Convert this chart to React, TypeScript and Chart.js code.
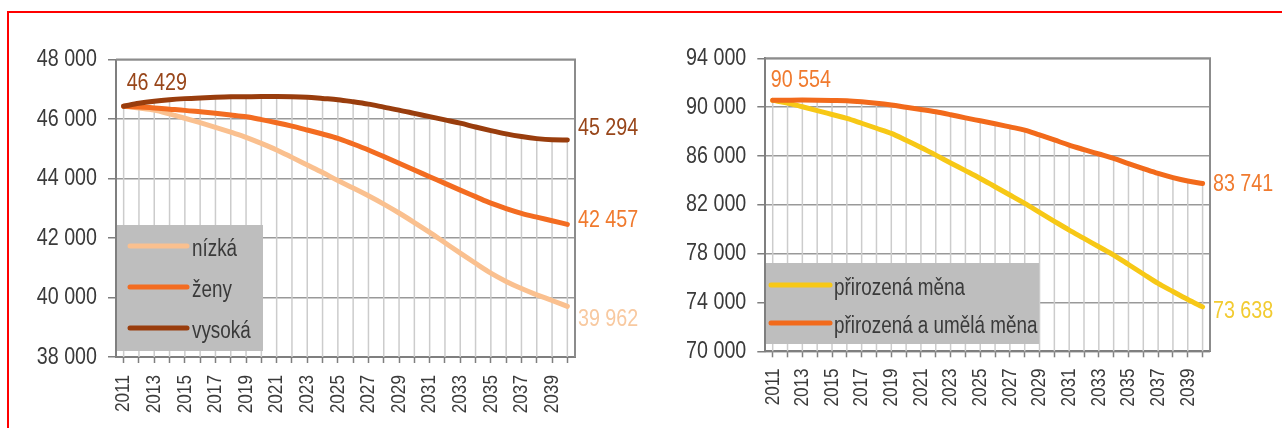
import React, { useEffect, useRef } from 'react';
import { Chart, registerables } from 'chart.js';

Chart.register(...registerables);

// ---------- data ----------
const years = [
  '2011', '2012', '2013', '2014', '2015', '2016', '2017', '2018', '2019', '2020',
  '2021', '2022', '2023', '2024', '2025', '2026', '2027', '2028', '2029', '2030',
  '2031', '2032', '2033', '2034', '2035', '2036', '2037', '2038', '2039', '2040',
];

// left chart
const lowVariant = [
  46429, 46370, 46300, 46170, 46025, 45875, 45720, 45555, 45385, 45180,
  44960, 44710, 44455, 44200, 43930, 43680, 43420, 43140, 42840, 42520,
  42190, 41840, 41490, 41150, 40820, 40540, 40300, 40090, 39900, 39700,
];
const midVariant = [
  46429, 46400, 46370, 46330, 46290, 46240, 46190, 46135, 46075, 45980,
  45875, 45760, 45630, 45495, 45350, 45160, 44960, 44740, 44510, 44285,
  44060, 43835, 43610, 43390, 43170, 42990, 42830, 42700, 42580, 42457,
];
const highVariant = [
  46429, 46530, 46600, 46650, 46685, 46710, 46730, 46745, 46750, 46755,
  46755, 46750, 46730, 46690, 46650, 46580, 46500, 46400, 46300, 46190,
  46080, 45970, 45860, 45730, 45610, 45500, 45410, 45340, 45300, 45294,
];
const leftNames = ['nízká', 'ženy', 'vysoká'];
const leftStartLabel = '46 429';
const leftEndLabels = ['39 962', '42 457', '45 294'];
const leftMin = 38000;
const leftMax = 48000;
const leftStep = 2000;

// right chart
const naturalChange = [
  90554, 90330, 90030, 89720, 89400, 89080, 88680, 88270, 87850, 87280,
  86690, 86070, 85430, 84800, 84160, 83480, 82800, 82110, 81380, 80650,
  79930, 79250, 78560, 77880, 77110, 76330, 75560, 74900, 74250, 73638,
];
const totalChange = [
  90554, 90570, 90580, 90570, 90550, 90525, 90440, 90320, 90170, 89990,
  89810, 89620, 89380, 89120, 88880, 88640, 88380, 88120, 87720, 87310,
  86890, 86520, 86160, 85800, 85380, 84970, 84570, 84230, 83950, 83741,
];
const rightNames = ['přirozená měna', 'přirozená a umělá měna'];
const rightStartLabel = '90 554';
const rightEndLabels = ['73 638', '83 741'];
const rightMin = 70000;
const rightMax = 94000;
const rightStep = 4000;

// ---------- helpers ----------
const FAMILY = '"Liberation Sans", Arial, sans-serif';
const NARROW = 0.82; // horizontal squeeze to imitate Arial Narrow

const fmt = (v: number) => String(v).replace(/\B(?=(\d{3})+(?!\d))/g, ' ');

function narrowText(
  ctx: CanvasRenderingContext2D,
  text: string,
  x: number,
  y: number,
  size: number,
  color: string,
  align: CanvasTextAlign,
  rotate = 0,
) {
  ctx.save();
  ctx.translate(x, y);
  if (rotate) ctx.rotate(rotate);
  ctx.scale(NARROW, 1);
  ctx.font = `${size}px ${FAMILY}`;
  ctx.fillStyle = color;
  ctx.textAlign = align;
  ctx.textBaseline = 'middle';
  ctx.fillText(text, 0, 0);
  ctx.restore();
}

interface SeriesDef {
  name: string;
  data: number[];
  color: string;
  labelColor: string;
  endLabel: string;
  endDy: number;
  order: number;
}

interface ChartDef {
  series: SeriesDef[];
  min: number;
  max: number;
  step: number;
  padTop: number;
  padRight: number;
  yWidth: number;
  xHeight: number;
  xLabelGap: number;
  startLabel: string;
  startColor: string;
  startDx: number;
  startDy: number;
  legendBox: { x: number; y: number; w: number; h: number };
  legendLineX: [number, number];
  legendTextX: number;
  legendRows: number[];
  legendOrder: number[];
}

function buildChart(canvas: HTMLCanvasElement, def: ChartDef) {
  const dropLines = {
    id: 'dropLines',
    beforeDatasetsDraw(chart: any) {
      const { ctx, chartArea } = chart;
      const metas = chart.getSortedVisibleDatasetMetas();
      const n = chart.data.labels.length;
      ctx.save();
      ctx.strokeStyle = '#cccccc';
      ctx.lineWidth = 1.5;
      for (let i = 0; i < n; i++) {
        let top = Infinity;
        let x = 0;
        for (const m of metas) {
          const p = m.data[i];
          if (p && p.y < top) {
            top = p.y;
            x = p.x;
          }
        }
        ctx.beginPath();
        ctx.moveTo(x, top);
        ctx.lineTo(x, chartArea.bottom);
        ctx.stroke();
      }
      ctx.strokeStyle = '#8c8c8c';
      ctx.lineWidth = 2;
      ctx.beginPath();
      ctx.moveTo(chartArea.left, chartArea.top);
      ctx.lineTo(chartArea.right, chartArea.top);
      ctx.lineTo(chartArea.right, chartArea.bottom);
      ctx.stroke();
      ctx.restore();
    },
  };

  const overlay = {
    id: 'overlay',
    afterDatasetsDraw(chart: any) {
      const { ctx, chartArea, scales } = chart;
      ctx.save();
      // axis tick labels
      for (let v = def.min; v <= def.max; v += def.step) {
        narrowText(ctx, fmt(v), chartArea.left - 19, scales.y.getPixelForValue(v), 24, '#3a3a3a', 'right');
      }
      years.forEach((yr, i) => {
        if (i % 2 !== 0) return;
        narrowText(ctx, yr, scales.x.getPixelForValue(i), chartArea.bottom + def.xLabelGap, 21, '#3a3a3a', 'right', -Math.PI / 2);
      });
      // legend box
      const b = def.legendBox;
      ctx.fillStyle = '#bebebe';
      ctx.fillRect(b.x, b.y, b.w, b.h);
      def.legendOrder.forEach((si, row) => {
        const s = def.series[si];
        const y = def.legendRows[row];
        ctx.strokeStyle = s.color;
        ctx.lineWidth = 5;
        ctx.lineCap = 'round';
        ctx.beginPath();
        ctx.moveTo(def.legendLineX[0], y);
        ctx.lineTo(def.legendLineX[1], y);
        ctx.stroke();
        narrowText(ctx, s.name, def.legendTextX, y + 4, 23, '#3a3a3a', 'left');
      });
      // data labels
      const first = chart.getDatasetMeta(0).data[0];
      narrowText(ctx, def.startLabel, first.x + def.startDx, first.y + def.startDy, 24, def.startColor, 'left');
      def.series.forEach((s, i) => {
        const m = chart.getDatasetMeta(i);
        const last = m.data[m.data.length - 1];
        narrowText(ctx, s.endLabel, chartArea.right + 3, last.y + s.endDy, 24, s.labelColor, 'left');
      });
      ctx.restore();
    },
  };

  return new Chart(canvas, {
    type: 'line',
    data: {
      labels: years,
      datasets: def.series.map((s) => ({
        label: s.name,
        data: s.data,
        borderColor: s.color,
        backgroundColor: s.color,
        borderWidth: 5,
        pointRadius: 0,
        cubicInterpolationMode: 'monotone' as const,
        fill: false,
        order: s.order,
        borderCapStyle: 'round' as const,
      })),
    },
    options: {
      responsive: false,
      animation: false,
      devicePixelRatio: 1,
      layout: { padding: { left: 0, top: def.padTop, right: def.padRight, bottom: 0 } },
      plugins: { legend: { display: false }, tooltip: { enabled: false } },
      scales: {
        x: {
          type: 'category',
          offset: true,
          grid: {
            offset: false,
            drawOnChartArea: false,
            drawTicks: true,
            tickLength: 6,
            tickColor: '#7f7f7f',
            tickWidth: 1.5,
          },
          border: { display: true, color: '#7f7f7f', width: 2 },
          ticks: { display: false, autoSkip: false },
          afterFit: (s: any) => {
            s.height = def.xHeight;
          },
        },
        y: {
          min: def.min,
          max: def.max,
          ticks: { display: false, stepSize: def.step },
          grid: {
            color: '#999999',
            lineWidth: 1.5,
            tickLength: 8,
            tickColor: '#7f7f7f',
            tickWidth: 1.5,
          },
          border: { display: true, color: '#7f7f7f', width: 2 },
          afterFit: (s: any) => {
            s.width = def.yWidth;
          },
        },
      },
    },
    plugins: [dropLines, overlay],
  } as any);
}

export default function App() {
  const leftRef = useRef<HTMLCanvasElement>(null);
  const rightRef = useRef<HTMLCanvasElement>(null);

  useEffect(() => {
    const leftDef: ChartDef = {
      series: [
        { name: leftNames[0], data: lowVariant, color: '#fac08f', labelColor: '#f8c9a0', endLabel: leftEndLabels[0], endDy: 13, order: 2 },
        { name: leftNames[1], data: midVariant, color: '#f36c21', labelColor: '#f07a2e', endLabel: leftEndLabels[1], endDy: -4, order: 1 },
        { name: leftNames[2], data: highVariant, color: '#993d0d', labelColor: '#98461a', endLabel: leftEndLabels[2], endDy: -12, order: 0 },
      ],
      min: leftMin,
      max: leftMax,
      step: leftStep,
      padTop: 59.5,
      padRight: 65,
      yWidth: 116,
      xHeight: 71,
      xLabelGap: 18,
      startLabel: leftStartLabel,
      startColor: '#98461a',
      startDx: 3,
      startDy: -23,
      legendBox: { x: 117, y: 225, w: 146, h: 126 },
      legendLineX: [130, 187],
      legendTextX: 192,
      legendRows: [246, 287, 328],
      legendOrder: [0, 1, 2],
    };

    const rightDef: ChartDef = {
      series: [
        { name: rightNames[0], data: naturalChange, color: '#f7c816', labelColor: '#f2cb30', endLabel: rightEndLabels[0], endDy: 4, order: 1 },
        { name: rightNames[1], data: totalChange, color: '#f26a1b', labelColor: '#f07a2e', endLabel: rightEndLabels[1], endDy: 1, order: 0 },
      ],
      min: rightMin,
      max: rightMax,
      step: rightStep,
      padTop: 58.3,
      padRight: 72,
      yWidth: 125.3,
      xHeight: 76.7,
      xLabelGap: 17,
      startLabel: rightStartLabel,
      startColor: '#f07a2e',
      startDx: -2,
      startDy: -20,
      legendBox: { x: 126, y: 263, w: 273, h: 81 },
      legendLineX: [131, 190],
      legendTextX: 194,
      legendRows: [285, 323],
      legendOrder: [0, 1],
    };

    const left = buildChart(leftRef.current!, leftDef);
    const right = buildChart(rightRef.current!, rightDef);
    return () => {
      left.destroy();
      right.destroy();
    };
  }, []);

  return (
    <div style={{ position: 'fixed', left: 0, top: 0, width: 1282, height: 428, background: '#ffffff', overflow: 'hidden' }}>
      <div
        style={{
          position: 'absolute',
          left: 7,
          top: 11,
          width: 1400,
          height: 600,
          borderLeft: '2px solid #ff0000',
          borderTop: '2px solid #ff0000',
        }}
      />
      <canvas ref={leftRef} width={640} height={428} style={{ position: 'absolute', left: 0, top: 0, width: 640, height: 428 }} />
      <canvas ref={rightRef} width={642} height={428} style={{ position: 'absolute', left: 640, top: 0, width: 642, height: 428 }} />
    </div>
  );
}
